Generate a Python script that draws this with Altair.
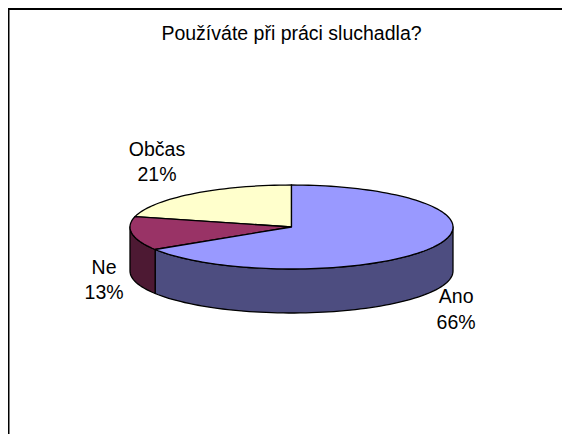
import math
import altair as alt
import pandas as pd

categories = ["Ano", "Ne", "Občas"]
shares = [66, 13, 21]
top_colors = ["#9999FF", "#993366", "#FFFFCC"]
wall_colors = ["#4D4D80", "#4D1933", "#80805F"]
title_text = "Používáte při práci sluchadla?"

W, H = 554, 426
CX, CY, RX, RY, DEPTH = 283.5, 219.0, 161.5, 42.0, 44.0
DEPTH_U = DEPTH / RY


def rim(deg, drop=0.0):
    a = math.radians(deg)
    return math.sin(a), math.cos(a) - drop


def arc(a0, a1, drop=0.0):
    n = max(2, int(abs(a1 - a0) / 2) + 1)
    return [rim(a0 + (a1 - a0) * k / (n - 1), drop) for k in range(n)]


starts, acc = [], 0.0
for v in shares:
    starts.append(acc)
    acc += v * 3.6

polys = []


def add(name, color, points):
    polys.append((name, color, points))


# visible side walls, then the top faces
for cat, s, v, col in zip(categories, starts, shares, wall_colors):
    lo, hi = max(s, 90.0), min(s + v * 3.6, 270.0)
    if hi > lo:
        add("wall " + cat, col, arc(lo, hi) + arc(hi, lo, DEPTH_U))
for cat, s, v, col in reversed(list(zip(categories, starts, shares, top_colors))):
    add("top " + cat, col, [(0.0, 0.0)] + arc(s, s + v * 3.6))

x_scale = alt.Scale(domain=[-CX / RX, (W - CX) / RX], range=[0, W], nice=False, zero=False)
y_scale = alt.Scale(domain=[(CY - H) / RY, CY / RY], range=[H, 0], nice=False, zero=False)

layers = []
for name, color, pts in polys:
    df = pd.DataFrame({"x": [p[0] for p in pts], "y": [p[1] for p in pts], "i": range(len(pts))})
    layers.append(
        alt.Chart(df)
        .mark_line(interpolate="linear-closed", fill=color, stroke="black", strokeWidth=1.3, strokeJoin="round")
        .encode(
            x=alt.X("x:Q", scale=x_scale, axis=None),
            y=alt.Y("y:Q", scale=y_scale, axis=None),
            order="i:Q",
        )
    )

# labels: rim point at the slice's mid angle, pushed out by a per-label offset
label_push = [(0.143, -1.19), (-0.173, -0.81), (-0.22, 1.05)]
rows = []
for cat, s, v, (ox, oy) in zip(categories, starts, shares, label_push):
    mx, my = rim(s + v * 1.8)
    rows.append({"x": mx + ox, "y": my + oy, "t": f"{cat}\n{v}%"})
labels = (
    alt.Chart(pd.DataFrame(rows))
    .mark_text(font="Liberation Sans", fontSize=19.5, lineBreak="\n", lineHeight=25.5, color="black", align="center", baseline="middle")
    .encode(
        x=alt.X("x:Q", scale=x_scale, axis=None),
        y=alt.Y("y:Q", scale=y_scale, axis=None),
        text="t:N",
    )
)

frame_df = pd.DataFrame({"k": [0]})
top_rule = alt.Chart(frame_df).mark_rule(color="black", strokeWidth=2).encode(
    x=alt.value(0), x2=alt.value(W), y=alt.value(1)
)
left_rule = alt.Chart(frame_df).mark_rule(color="black", strokeWidth=2).encode(
    x=alt.value(0.5), y=alt.value(0), y2=alt.value(H)
)

chart = (
    alt.layer(*layers, labels, top_rule, left_rule)
    .properties(
        width=W,
        height=H,
        padding=0,
        autosize=alt.AutoSizeParams(type="none"),
        title=alt.TitleParams(
            title_text,
            font="Liberation Sans",
            fontSize=19.5,
            fontWeight="normal",
            color="black",
            anchor="middle",
            baseline="alphabetic",
            offset=-52,
            dx=6.5,
        ),
    )
    .configure_view(stroke=None)
    .configure(background="white")
)
chart.save("out.html", embed_options={"renderer": "svg", "actions": False})
